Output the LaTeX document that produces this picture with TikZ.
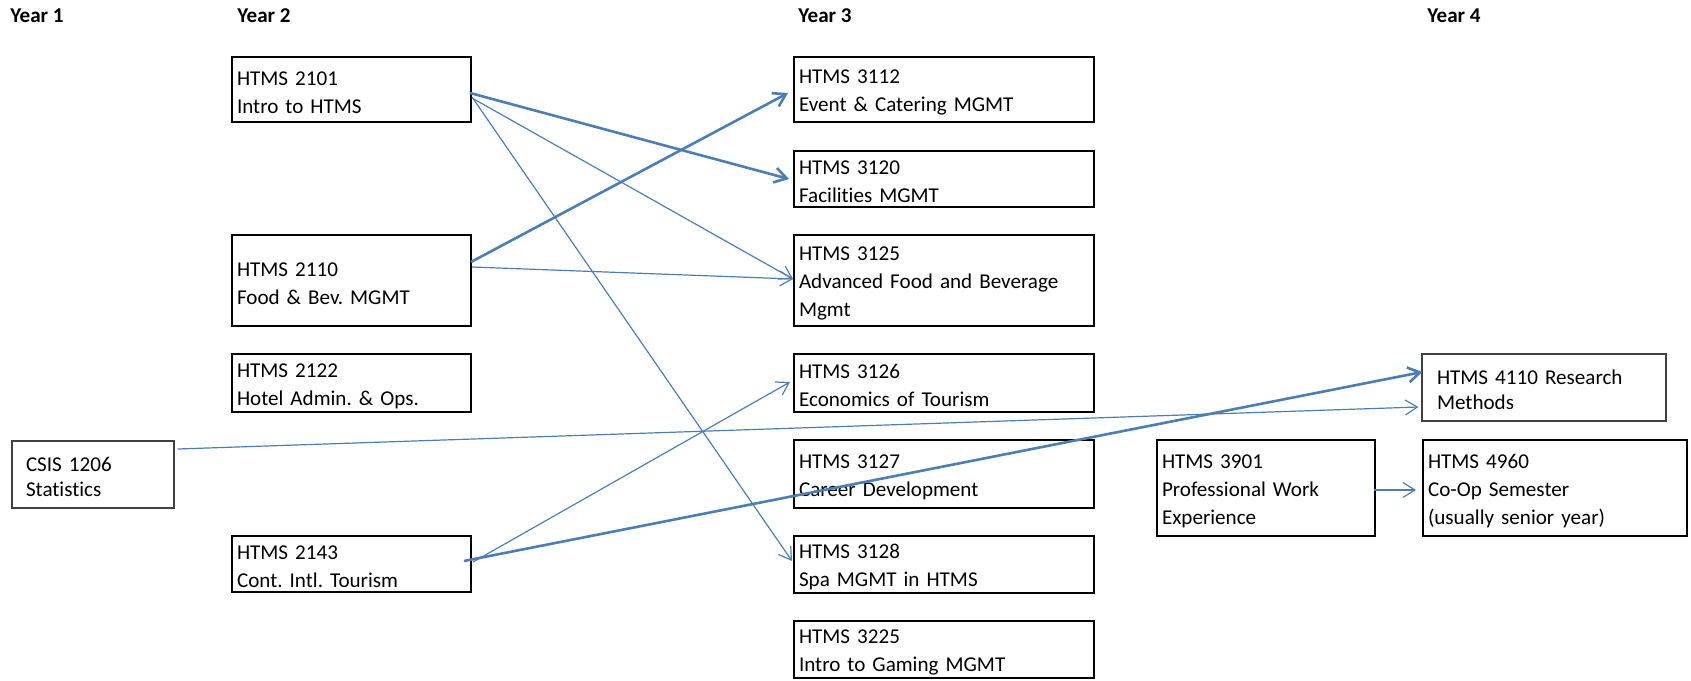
\documentclass[tikz,border=0pt]{standalone}
\usepackage{fontspec}
\setmainfont{Carlito}[Ligatures=NoCommon]
\usetikzlibrary{arrows.meta,calc}
\definecolor{lineblue}{RGB}{74,126,187}
\frenchspacing
\begin{document}
\begin{tikzpicture}[x=0.5pt,y=-0.5pt,
  txt/.style={font=\frenchspacing\fontsize{10.55}{14}\selectfont},
  box/.style={txt, draw=black, line width=1pt, rectangle, inner xsep=2.5pt, inner ysep=0pt, align=left,
    execute at begin node={\rule{0pt}{9.8pt}}},
  thinbox/.style={box, draw=black!75, line width=0.6pt, font=\frenchspacing\fontsize{10.55}{12.5}\selectfont},
  ytwo/.style={box, minimum width=119.5pt, text width=114.5pt},
  ythree/.style={box, minimum width=150pt, text width=145pt},
  yearlbl/.style={font=\fontsize{10.55}{14}\selectfont\bfseries, anchor=base west, inner sep=0pt},
  arr/.style={draw=lineblue, -{Straight Barb[length=6pt,width=7.5pt]}},
  thinarr/.style={arr, line width=0.6pt},
  thickarr/.style={arr, line width=1.3pt},
]
\useasboundingbox (0,0) rectangle (1691,680);

% year labels
\node[yearlbl] (y1) at (10,23) {Year 1};
\node[yearlbl] (y2) at (237,23) {Year 2};
\node[yearlbl] (y3) at (798,23) {Year 3};
\node[yearlbl] (y4) at (1427,23) {Year 4};

% year 1
\node[thinbox, minimum width=81pt, text width=67pt, inner xsep=7pt, minimum height=33.5pt] (c1206) at (93,474.5) {CSIS 1206\\Statistics};

% year 2
\node[ytwo, minimum height=32.5pt] (b2101) at (351.5,89.5) {HTMS 2101\\Intro to HTMS};
\node[ytwo, minimum height=45.5pt] (b2110) at (351.5,280.5) {HTMS 2110\\Food \& Bev. MGMT};
\node[ytwo, minimum height=29pt] (b2122) at (351.5,383) {HTMS 2122\\Hotel Admin. \& Ops.};
\node[ytwo, minimum height=28pt] (b2143) at (351.5,564) {HTMS 2143\\Cont. Intl. Tourism};

% year 3
\node[ythree, minimum height=32.5pt] (b3112) at (944,89.5) {HTMS 3112\\Event \& Catering MGMT};
\node[ythree, minimum height=28pt] (b3120) at (944,179) {HTMS 3120\\Facilities MGMT};
\node[ythree, minimum height=45.5pt] (b3125) at (944,280.5) {HTMS 3125\\Advanced Food and Beverage\\Mgmt};
\node[ythree, minimum height=29pt] (b3126) at (944,383) {HTMS 3126\\Economics of Tourism};
\node[ythree, minimum height=34pt] (b3127) at (944,474) {HTMS 3127\\Career Development};
\node[ythree, minimum height=28.5pt] (b3128) at (944,564.5) {HTMS 3128\\Spa MGMT in HTMS};
\node[ythree, minimum height=28.5pt] (b3225) at (944,649.5) {HTMS 3225\\Intro to Gaming MGMT};

% year 3/4 right side
\node[box, minimum width=109pt, text width=104pt, minimum height=48pt] (b3901) at (1266,488) {HTMS 3901\\Professional Work\\Experience};
\node[thinbox, minimum width=122pt, text width=107pt, inner xsep=7.5pt, minimum height=33.5pt] (b4110) at (1544,387.5) {HTMS 4110 Research\\Methods};
\node[box, minimum width=132pt, text width=127pt, minimum height=48pt] (b4960) at (1555,488) {HTMS 4960\\Co-Op Semester\\(usually senior year)};

% connectors
\draw[thickarr] ($(b2101.east)+(-2,3.5)$) -- ($(b3120.west)+(-4,0)$);
\draw[thinarr] ($(b2101.east)+(0,8.5)$) -- ($(b3125.west)+(0,-1.5)$);
\draw[thinarr] ($(b2101.east)+(0,7.5)$) -- ($(b3128.west)+(-1,-3.5)$);
\draw[thickarr] ($(b2110.east)+(-1,-18.5)$) -- ($(b3112.west)+(-5,3.5)$);
\draw[thinarr] ($(b2110.east)+(0,-13.5)$) -- ($(b3125.west)+(0,-1.5)$);
\draw[thinarr] ($(b2143.east)+(1,-2)$) -- ($(b3126.west)+(-3,-1)$);
\draw[thickarr] ($(b2143.east)+(-8,-3)$) -- ($(b4110.west)+(1,-15.5)$);
\draw[thinarr] ($(c1206.east)+(3,-25.5)$) -- ($(b4110.west)+(-3,19.5)$);
\draw[thinarr] ($(b3901.east)+(-2,2)$) -- ($(b4960.west)+(-6,2)$);
\end{tikzpicture}
\end{document}
